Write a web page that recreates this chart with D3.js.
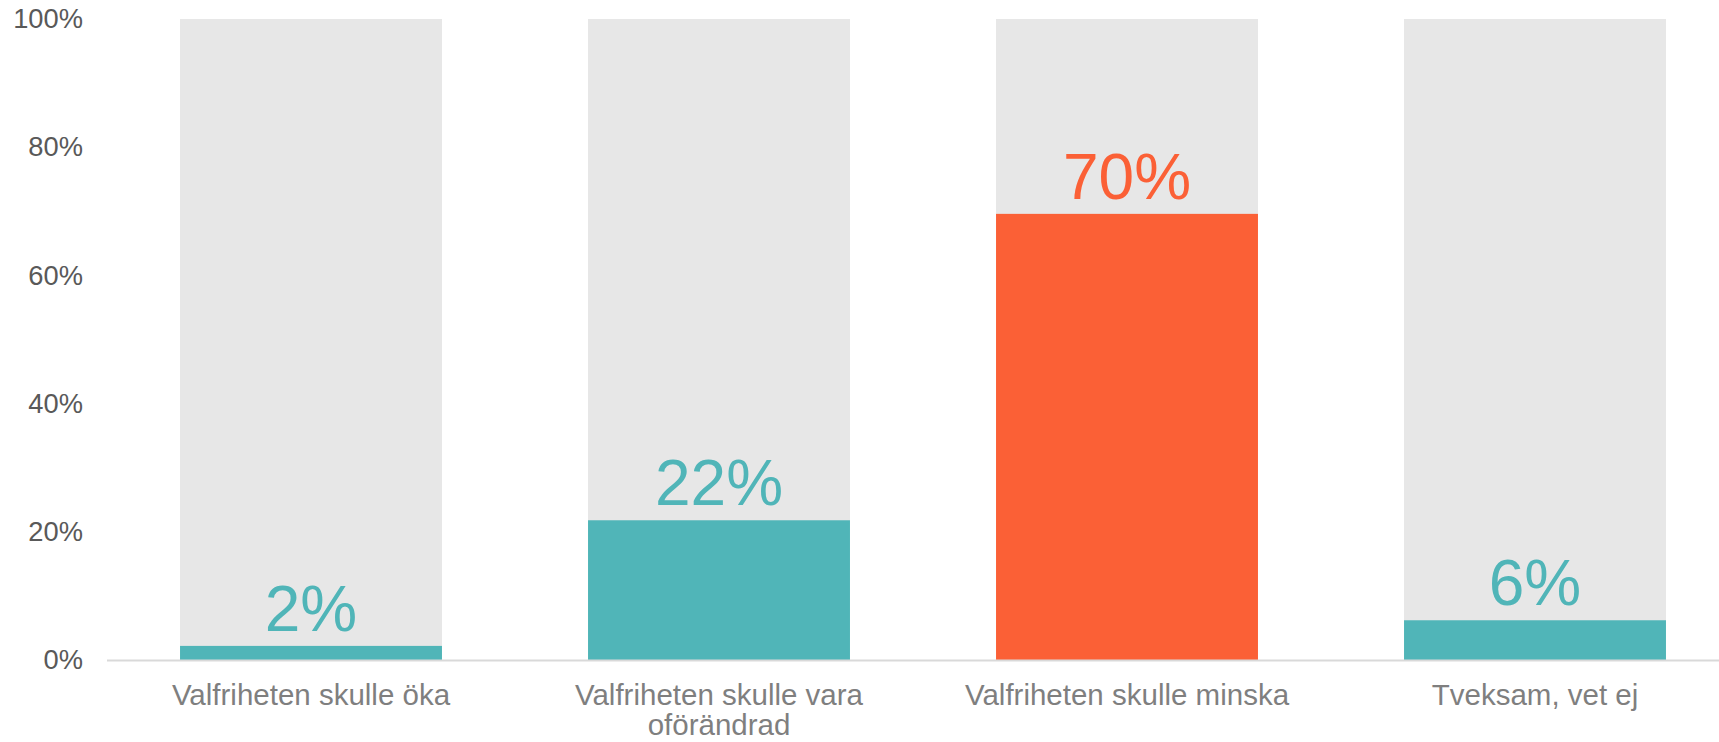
<!DOCTYPE html>
<html>
<head>
<meta charset="utf-8">
<script src="https://cdn.jsdelivr.net/npm/d3@7"></script>
<style>
  body { margin: 0; background: #fff; }
  svg { display: block; font-family: "Liberation Sans", Arial, sans-serif; }
</style>
</head>
<body>
<svg width="1719" height="742"></svg>
<script>
// data
const categories = [
  ["Valfriheten skulle öka"],
  ["Valfriheten skulle vara", "oförändrad"],
  ["Valfriheten skulle minska"],
  ["Tveksam, vet ej"]
];
const values = [2.2, 21.8, 69.6, 6.2];
const valueLabels = ["2%", "22%", "70%", "6%"];
const highlight = [false, false, true, false];
const yTicks = [0, 20, 40, 60, 80, 100];

const svg = d3.select("svg");
const width = +svg.attr("width");
const margin = {top: 19, left: 107, bottom: 82};
const plotBottom = 660;

const x = d3.scaleBand()
  .domain(d3.range(categories.length))
  .range([margin.left, 1739])
  .paddingInner(0.358)
  .paddingOuter(0.179);

const y = d3.scaleLinear()
  .domain([0, 100])
  .range([plotBottom, margin.top]);

const teal = "#50b5b8";
const orange = "#fb6036";

// grey background bars
svg.append("g").selectAll("rect")
  .data(values)
  .join("rect")
  .attr("x", (d, i) => x(i))
  .attr("y", y(100))
  .attr("width", x.bandwidth())
  .attr("height", y(0) - y(100))
  .attr("fill", "#e7e7e7");

// value bars
svg.append("g").selectAll("rect")
  .data(values)
  .join("rect")
  .attr("x", (d, i) => x(i))
  .attr("y", d => y(d))
  .attr("width", x.bandwidth())
  .attr("height", d => y(0) - y(d))
  .attr("fill", (d, i) => highlight[i] ? orange : teal);

// value labels
svg.append("g").selectAll("text")
  .data(values)
  .join("text")
  .attr("x", (d, i) => x(i) + x.bandwidth() / 2)
  .attr("y", d => y(d) - 15)
  .attr("text-anchor", "middle")
  .attr("font-size", 64)
  .attr("fill", (d, i) => highlight[i] ? orange : teal)
  .text((d, i) => valueLabels[i]);

// baseline
svg.append("line")
  .attr("x1", margin.left)
  .attr("x2", width)
  .attr("y1", y(0) + 0.5)
  .attr("y2", y(0) + 0.5)
  .attr("stroke", "#d9d9d9")
  .attr("stroke-width", 2);

// y axis labels
const yAxis = d3.axisLeft(y)
  .tickValues(yTicks)
  .tickFormat(d => d + "%")
  .tickSize(0)
  .tickPadding(0);
const yg = svg.append("g")
  .attr("transform", "translate(83,0)")
  .call(yAxis);
yg.select(".domain").remove();
yg.selectAll("text")
  .attr("font-size", 27.3)
  .attr("font-family", "Liberation Sans, Arial, sans-serif")
  .attr("fill", "#595959");

// category labels
const cat = svg.append("g").selectAll("text")
  .data(categories)
  .join("text")
  .attr("x", (d, i) => x(i) + x.bandwidth() / 2)
  .attr("y", 705)
  .attr("text-anchor", "middle")
  .attr("font-size", 29.5)
  .attr("fill", "#7f7f7f");
cat.selectAll("tspan")
  .data(d => d)
  .join("tspan")
  .attr("x", function () { return d3.select(this.parentNode).attr("x"); })
  .attr("dy", (d, i) => i === 0 ? 0 : 30)
  .text(d => d);
</script>
</body>
</html>
